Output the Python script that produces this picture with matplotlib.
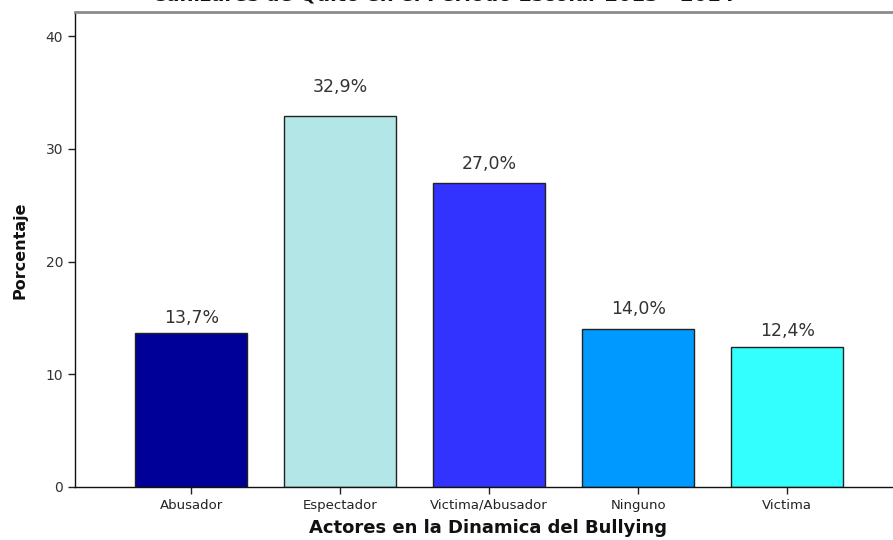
import matplotlib
matplotlib.use("Agg")
import matplotlib.pyplot as plt

# Data
categories = ["Abusador", "Espectador", "Victima/Abusador", "Ninguno", "Victima"]
percentages = [13.7, 32.9, 27.0, 14.0, 12.4]
bar_colors = ["#000099", "#b3e6e6", "#3333ff", "#0099ff", "#33ffff"]
y_ticks = [0, 10, 20, 30, 40]

title_tail = "Canizares de Quito en el Periodo Escolar 2013 - 2014"
x_label = "Actores en la Dinamica del Bullying"
y_label = "Porcentaje"

plt.rcParams["font.family"] = ["DejaVu Sans"]

W, H = 893, 540
fig = plt.figure(figsize=(W / 100, H / 100), dpi=100)
ax = fig.add_axes([75 / W, 53 / H, (W - 75) / W, 475 / H])

x = list(range(len(categories)))
bars = ax.bar(x, percentages, width=0.75, color=bar_colors,
              edgecolor="#222222", linewidth=1.0, zorder=2)

# value labels above each bar (pixel gap varies slightly as in the SPSS output)
label_gaps = [15, 29, 19, 20, 16]
for rect, val, gap in zip(bars, percentages, label_gaps):
    ax.annotate(f"{val:.1f}%".replace(".", ","),
                xy=(rect.get_x() + rect.get_width() / 2, val),
                xytext=(0, gap * 0.72), textcoords="offset points",
                ha="center", va="center", fontsize=12.5, color="#333333")

ax.set_xlim(-0.78, 4.71)
ax.set_ylim(0, 42.13)
ax.set_xticks(x)
ax.set_xticklabels(categories, fontsize=9.5, color="#222222")
ax.set_yticks(y_ticks)
ax.set_yticklabels([str(t) for t in y_ticks], fontsize=10, color="#333333")
ax.tick_params(axis="both", direction="out", length=5, width=1, color="#222222")

for side in ("left", "bottom"):
    ax.spines[side].set_color("#111111")
    ax.spines[side].set_linewidth(1.0)
ax.spines["right"].set_visible(False)
ax.spines["top"].set_color("#8c8c8c")
ax.spines["top"].set_linewidth(2.0)

fig.text(20 / W, 1 - 250 / H, y_label, rotation=90, ha="center", va="center",
         fontsize=11.5, fontweight="bold", color="#111111")
fig.text(488 / W, 1 - 528 / H, x_label, ha="center", va="center",
         fontsize=13, fontweight="bold", color="#111111")
fig.text(443 / W, 1 - 0.5 / H, title_tail, ha="center", va="baseline",
         fontsize=14, fontweight="bold", color="#111111")

fig.savefig("out.png", dpi=100)
